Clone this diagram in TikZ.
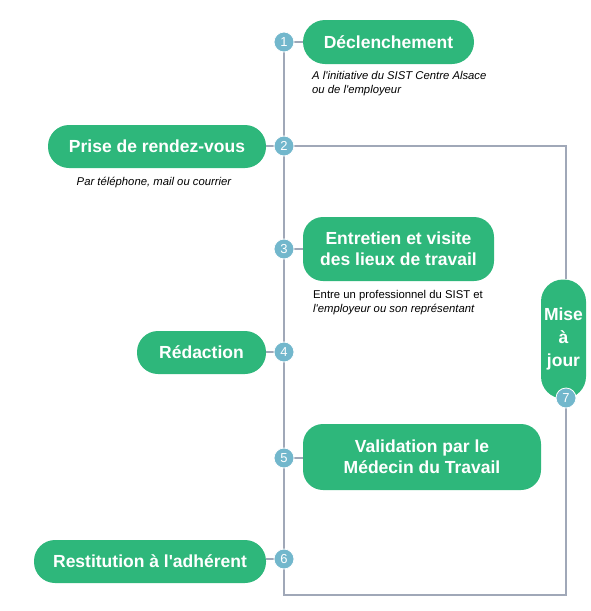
\documentclass[tikz,border=0pt]{standalone}
\usepackage{fontspec}
\setmainfont{Liberation Sans}
\definecolor{sistvert}{HTML}{2EB77B}
\definecolor{sistbleu}{HTML}{72B7CC}
\definecolor{sistgris}{HTML}{A0A8B8}
\usetikzlibrary{positioning, calc}
\newcommand{\apos}{\textquotesingle}

\begin{document}
\begin{tikzpicture}[x=1pt, y=-1pt,
    etape/.style={fill=sistvert, text=white, font=\bfseries\fontsize{17.5}{21}\selectfont,
      align=center, inner sep=0pt},
    pastille/.style={circle, fill=sistbleu, draw=white, line width=0.8pt, minimum size=20pt,
      inner sep=0pt, text=white, font=\fontsize{13}{13}\selectfont},
    note/.style={font=\itshape\fontsize{11.3}{14}\selectfont, align=left, inner sep=0pt},
    lien/.style={draw=sistgris, line width=2pt}]
  \useasboundingbox (0,0) rectangle (590,611);
  % Etapes
  \node[etape, minimum width=171pt, minimum height=44pt, rounded corners=22pt]
    (decl) at (388.5,42) {Déclenchement};
  \node[etape, minimum width=218pt, minimum height=43pt, rounded corners=21pt]
    (prise) at (157,146.5) {Prise de rendez-vous};
  \node[etape, minimum width=191pt, minimum height=64pt, rounded corners=20pt]
    (entretien) at (398.5,249) {Entretien et visite\\des lieux de travail};
  \node[etape, minimum width=129pt, minimum height=43pt, rounded corners=21pt]
    (redaction) at (201.5,352.5) {Rédaction};
  \node[etape, minimum width=238pt, minimum height=66pt, rounded corners=20pt]
    (validation) at (422,457) {Validation par le\\Médecin du Travail};
  \node[etape, minimum width=232pt, minimum height=43pt, rounded corners=21pt]
    (restitution) at (150,561.5) {Restitution à l\apos adhérent};
  \node[etape, minimum width=45pt, minimum height=119pt, rounded corners=22pt]
    (misejour) at (563.5,339) {Mise\\[2pt]à\\[2pt]jour};
  % Notes
  \node[note, anchor=north west] (n1) at (312,71)
    {A l\apos initiative du SIST Centre Alsace\\ou de l\apos employeur};
  \node[note, anchor=north] (n2) at (154,177) {Par téléphone, mail ou courrier};
  \node[note, anchor=north west] (n3) at (313,290)
    {\upshape Entre un professionnel du SIST et\\\itshape l\apos employeur ou son représentant};
  % Pastilles
  \coordinate (c1) at (284,42);
  \coordinate (c2) at (284,146);
  \coordinate (c3) at (284,249);
  \coordinate (c4) at (284,352);
  \coordinate (c5) at (284,458);
  \coordinate (c6) at (284,559);
  \coordinate (c7) at (566,398);
  \coordinate (coinbas) at (284,595);
  \coordinate (coindroit) at (566,595);
  \coordinate (coinhaut) at (566,146);
  % Liens
  \draw[lien] (c1) -- (coinbas) -- (coindroit) -- (c7);
  \draw[lien] (c2) -- (coinhaut) -- (misejour.north -| coinhaut);
  \draw[lien] (c1) -- (decl.west |- c1);
  \draw[lien] (c2) -- (prise.east |- c2);
  \draw[lien] (c3) -- (entretien.west |- c3);
  \draw[lien] (c4) -- (redaction.east |- c4);
  \draw[lien] (c5) -- (validation.west |- c5);
  \draw[lien] (c6) -- (restitution.east |- c6);
  \foreach \i in {1,...,7}
    \node[pastille] (p\i) at (c\i) {\i};
\end{tikzpicture}
\end{document}
